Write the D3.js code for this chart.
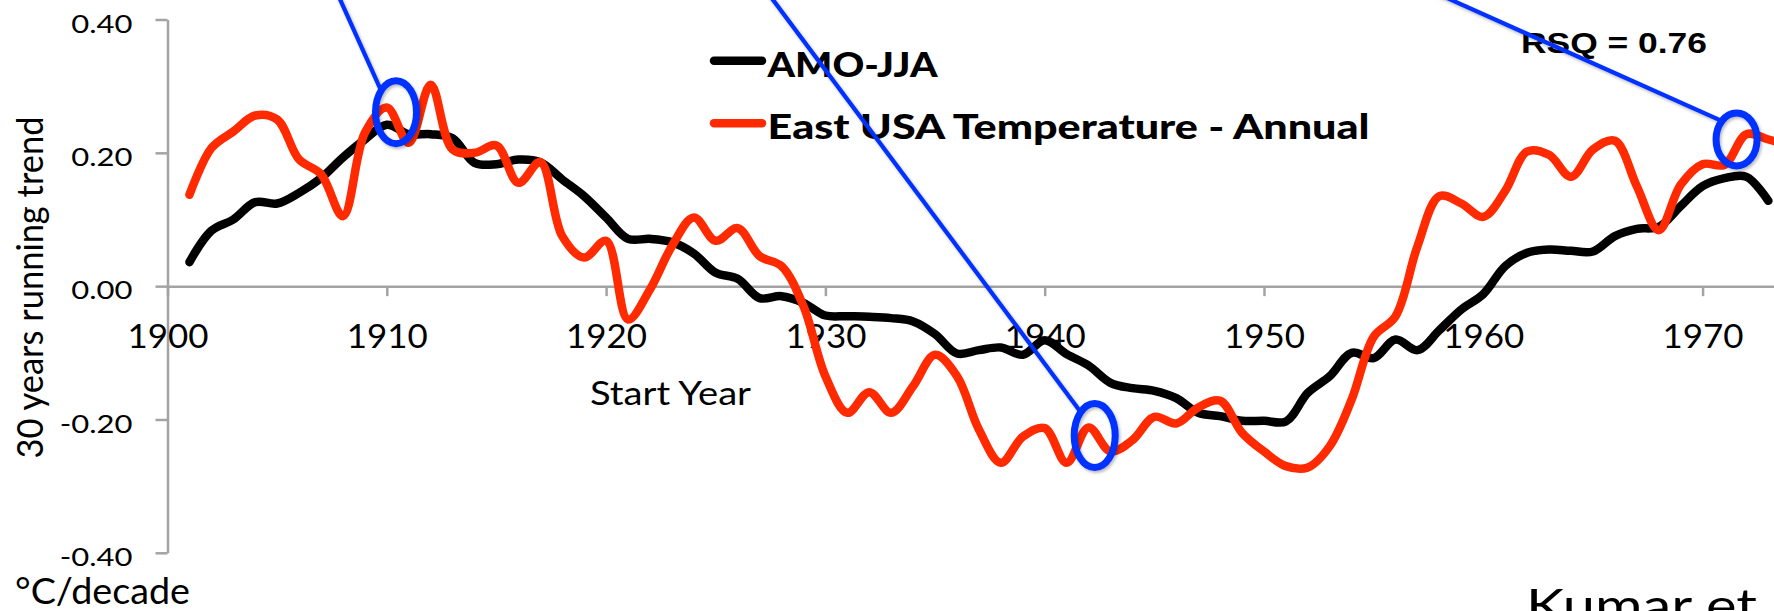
<!DOCTYPE html>
<html>
<head>
<meta charset="utf-8">
<script src="https://cdn.jsdelivr.net/npm/d3@7"></script>
<style>
  html, body { margin: 0; padding: 0; background: #fff; overflow: hidden; }
  svg { display: block; }
</style>
</head>
<body>
<svg id="chart" width="1774" height="611"></svg>
<script>
// Start year of each 30-year window
const startYears = d3.range(1901, 1975);

// 30-year running trend, °C/decade
const amoJJA = [
  0.036, 0.083, 0.100, 0.126, 0.124, 0.140, 0.162, 0.193, 0.220, 0.242,
  0.228, 0.228, 0.222, 0.185, 0.183, 0.190, 0.186, 0.160, 0.135, 0.103,
  0.071, 0.071, 0.066, 0.049, 0.020, 0.011, -0.018, -0.015, -0.025, -0.044,
  -0.045, -0.046, -0.048, -0.053, -0.072, -0.101, -0.096, -0.092, -0.103, -0.081,
  -0.102, -0.119, -0.145, -0.153, -0.157, -0.168, -0.190, -0.195, -0.202, -0.202,
  -0.203, -0.160, -0.135, -0.100, -0.108, -0.080, -0.096, -0.066, -0.035, -0.012,
  0.030, 0.050, 0.055, 0.053, 0.052, 0.075, 0.086, 0.089, 0.120, 0.150,
  0.162, 0.164, 0.128
];

const eastUSATemp = [
  0.137, 0.207, 0.232, 0.256, 0.250, 0.190, 0.168, 0.105, 0.230, 0.268,
  0.215, 0.302, 0.205, 0.200, 0.211, 0.155, 0.186, 0.075, 0.043, 0.068,
  -0.050, -0.005, 0.060, 0.103, 0.068, 0.087, 0.045, 0.030, -0.030, -0.135,
  -0.190, -0.159, -0.190, -0.150, -0.103, -0.135, -0.215, -0.265, -0.226, -0.213,
  -0.265, -0.212, -0.248, -0.231, -0.196, -0.206, -0.182, -0.172, -0.220, -0.248,
  -0.270, -0.272, -0.240, -0.170, -0.076, -0.045, 0.060, 0.135, 0.124, 0.104,
  0.143, 0.202, 0.197, 0.164, 0.205, 0.218, 0.150, 0.084, 0.152, 0.183,
  0.182, 0.228, 0.220, 0.210
];

const seriesNames = ["AMO-JJA", "East USA Temperature - Annual"];
const xTickYears = [1900, 1910, 1920, 1930, 1940, 1950, 1960, 1970];
const yTickValues = [-0.4, -0.2, 0, 0.2, 0.4];

// Highlighted start years (circle centre) and the callout line reaching each one
const circleYears  = [1910.42, 1942.28, 1971.55];
const circleValues = [0.261, -0.224, 0.220];
const calloutFromYears  = [1907.72, 1927.35, 1957.75];
const calloutFromValues = [0.441, 0.441, 0.441];
const calloutToYears  = [1909.73, 1941.58, 1970.79];
const calloutToValues = [0.294, -0.186, 0.249];

const rsqLabel = "RSQ = 0.76";

// ---------------------------------------------------------------
const colors = { amo: "#000000", temp: "#ff2a00", blue: "#0530ff", axis: "#a3a3a3" };
const regularFont = "Lato, 'Open Sans', sans-serif";

const svg = d3.select("#chart");

const x = d3.scaleLinear().domain([1900, 1974]).range([167.5, 1790.3]);
const y = d3.scaleLinear().domain([-0.4, 0.4]).range([552.8, 19.5]);

// widen glyphs horizontally to a given width, or by a factor
function fitWidth(sel, width) {
  sel.attr("textLength", width).attr("lengthAdjust", "spacingAndGlyphs");
}
function stretch(sel, factor) {
  sel.each(function () {
    const w = this.getComputedTextLength();
    d3.select(this).attr("textLength", w * factor).attr("lengthAdjust", "spacingAndGlyphs");
  });
}

const defs = svg.append("defs");
const shadow = defs.append("filter").attr("id", "soft-shadow")
  .attr("x", "-20%").attr("y", "-20%").attr("width", "140%").attr("height", "140%");
shadow.append("feDropShadow")
  .attr("dx", 1.5).attr("dy", 2).attr("stdDeviation", 1.4)
  .attr("flood-color", "#000").attr("flood-opacity", 0.28);

// y axis
const yAxis = svg.append("g")
  .attr("transform", `translate(${x(1900)},0)`)
  .attr("color", colors.axis)
  .call(d3.axisLeft(y).tickValues(yTickValues).tickSize(12).tickSizeOuter(0)
    .tickPadding(23).tickFormat(d => d.toFixed(2)));
yAxis.selectAll("path, line").attr("stroke-width", 2.5);
yAxis.selectAll("text")
  .attr("fill", "#000").attr("font-family", regularFont).attr("font-size", 25)
  .attr("dy", 0).attr("y", 12.8)
  .call(stretch, 1.24);

// x axis along zero
const xAxis = svg.append("g")
  .attr("transform", `translate(0,${y(0)})`)
  .attr("color", colors.axis)
  .call(d3.axisBottom(x).tickValues(xTickYears).tickSizeInner(10).tickSizeOuter(0)
    .tickFormat(d3.format("d")));
xAxis.selectAll("path, line").attr("stroke-width", 2.5);
xAxis.selectAll("text")
  .attr("fill", "#000").attr("font-family", regularFont).attr("font-size", 32)
  .attr("dy", 0).attr("y", 62)
  .call(fitWidth, 81);

// axis titles
svg.append("text")
  .attr("x", 590).attr("y", 405)
  .attr("font-family", regularFont).attr("font-size", 32)
  .text("Start Year").call(fitWidth, 161);

svg.append("text")
  .attr("transform", "translate(43,287.5) rotate(-90)")
  .attr("text-anchor", "middle")
  .attr("font-family", regularFont).attr("font-size", 36)
  .text("30 years running trend").call(fitWidth, 342);

svg.append("text")
  .attr("x", 15).attr("y", 604)
  .attr("font-family", regularFont).attr("font-size", 36)
  .text("°C/decade").call(fitWidth, 175);

svg.append("text")
  .attr("x", 1526).attr("y", 622)
  .attr("font-family", regularFont).attr("font-size", 46)
  .text("Kumar et").call(fitWidth, 231);

// series lines
const line = d3.line()
  .x(d => x(d.year))
  .y(d => y(d.value))
  .curve(d3.curveCatmullRom.alpha(0.5));

const series = [
  { name: seriesNames[0], color: colors.amo, values: amoJJA },
  { name: seriesNames[1], color: colors.temp, values: eastUSATemp }
];

svg.append("g").selectAll("path")
  .data(series)
  .join("path")
  .attr("d", s => line(s.values.map((v, i) => ({ year: startYears[i], value: v }))))
  .attr("fill", "none")
  .attr("stroke", s => s.color)
  .attr("stroke-width", 8.5)
  .attr("stroke-linecap", "round")
  .attr("stroke-linejoin", "round");

// legend
const legend = svg.append("g");
const legendRows = legend.selectAll("g")
  .data(series)
  .join("g")
  .attr("transform", (d, i) => `translate(714,${60.7 + i * 62.6})`);
legendRows.append("line")
  .attr("x1", 0).attr("x2", 48)
  .attr("stroke", d => d.color).attr("stroke-width", 8.5).attr("stroke-linecap", "round");
legendRows.append("text")
  .attr("x", 53.5).attr("y", 16)
  .attr("font-family", regularFont).attr("font-weight", 900).attr("font-size", 35)
  .text(d => d.name)
  .each(function (d, i) { d3.select(this).call(fitWidth, i === 0 ? 170 : 602); });

svg.append("text")
  .attr("x", 1521).attr("y", 53.3)
  .attr("font-family", "'Liberation Sans', Arial, sans-serif").attr("font-weight", 700)
  .attr("font-size", 30)
  .text(rsqLabel).call(fitWidth, 186);

// callouts
const callouts = circleYears.map((yr, i) => ({
  cx: x(yr), cy: y(circleValues[i]),
  x1: x(calloutFromYears[i]), y1: y(calloutFromValues[i]),
  x2: x(calloutToYears[i]), y2: y(calloutToValues[i])
}));
const ellipseSize = [{ rx: 20.5, ry: 31.5 }, { rx: 20.5, ry: 32 }, { rx: 20.5, ry: 26.5 }];

const calloutG = svg.append("g").attr("filter", "url(#soft-shadow)");
calloutG.selectAll("line")
  .data(callouts)
  .join("line")
  .attr("x1", d => d.x1).attr("y1", d => d.y1)
  .attr("x2", d => d.x2).attr("y2", d => d.y2)
  .attr("stroke", colors.blue).attr("stroke-width", 4.2);
calloutG.selectAll("ellipse")
  .data(callouts)
  .join("ellipse")
  .attr("cx", d => d.cx).attr("cy", d => d.cy)
  .attr("rx", (d, i) => ellipseSize[i].rx).attr("ry", (d, i) => ellipseSize[i].ry)
  .attr("fill", "none").attr("stroke", colors.blue).attr("stroke-width", 7);
</script>
</body>
</html>
